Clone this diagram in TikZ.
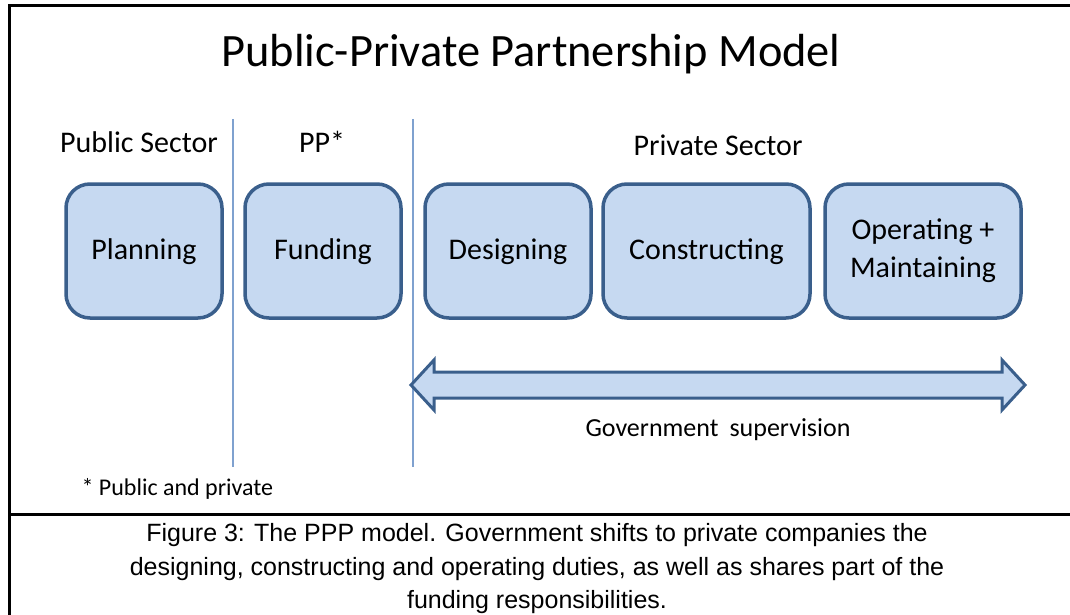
\documentclass[tikz,border=0pt]{standalone}
\usepackage{fontspec}
\setmainfont{Carlito}
\newfontfamily\capfont{Liberation Sans}
\definecolor{boxfill}{HTML}{C6D9F1}
\definecolor{boxline}{HTML}{3A5F8C}
\definecolor{sepline}{HTML}{7FA1CF}
\begin{document}
\begin{tikzpicture}[
		x=1pt, y=-1pt,
		stage/.style={draw=boxline, fill=boxfill, line width=3.5pt, rounded corners=24pt,
				minimum height=134pt, inner sep=0pt, align=center,
				font=\fontsize{30}{38}\selectfont},
		sector/.style={anchor=base, font=\fontsize{30}{36}\selectfont},
		divider/.style={draw=sepline, line width=1.6pt},
		frame/.style={draw=black, line width=3pt},
		capline/.style={anchor=base, font=\capfont\fontsize{25}{30}\selectfont}
	]
	\useasboundingbox (0,0) rectangle (1070,615);
	\draw[frame] (9,620) -- (9,6) -- (1075,6);
	\draw[frame] (9,514) -- (1075,514);

	\node[anchor=base, font=\fontsize{46.4}{52}\selectfont] (title) at (531,67) {Public-Private Partnership Model};

	\node[sector] (public) at (139,153) {Public Sector};
	\node[sector] (pp) at (322,153) {PP*};
	\node[sector] (private) at (718,155) {Private Sector};

	\coordinate (d1top) at (233,119);
	\coordinate (d1bot) at (233,467);
	\coordinate (d2top) at (413,119);
	\coordinate (d2bot) at (413,467);
	\draw[divider] (d1top) -- (d1bot);
	\draw[divider] (d2top) -- (d2bot);

	\node[stage, minimum width=156pt, text depth=3pt] (plan) at (144,251) {Planning};
	\node[stage, minimum width=156pt, text depth=3pt] (fund) at (323,251) {Funding};
	\node[stage, minimum width=166pt, text depth=3pt] (design) at (508,251) {Designing};
	\node[stage, minimum width=207pt, text depth=3pt] (build) at (706.5,251) {Constructing};
	\node[stage, minimum width=196pt] (operate) at (923,251) {Operating +\\Maintaining};

	\draw[draw=boxline, fill=boxfill, line width=3pt, line join=miter]
		(411,385) -- (434,360) -- (434,372) -- (1002,372) -- (1002,360) -- (1025,385)
		-- (1002,410) -- (1002,398) -- (434,398) -- (434,410) -- cycle;
	\node[anchor=base, font=\fontsize{26}{30}\selectfont] (supervise) at (718,436) {Government\hspace{0.2em} supervision};

	\node[anchor=base west, font=\fontsize{24}{28}\selectfont] (note) at (78,495) {* Public and private};

	\node[capline] (cap1) at (537,541) {Figure 3: The PPP model. Government shifts to private companies the};
	\node[capline] (cap2) at (537,575) {designing, constructing and operating duties, as well as shares part of the};
	\node[capline] (cap3) at (537,608) {funding responsibilities.};
\end{tikzpicture}
\end{document}
